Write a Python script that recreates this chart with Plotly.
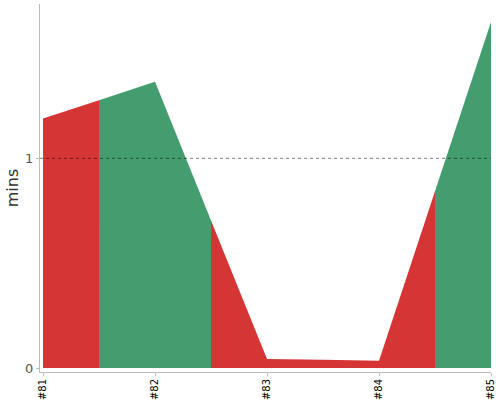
import numpy as np
import plotly.graph_objects as go

# Build durations (minutes) and results
builds = ["#81", "#82", "#83", "#84", "#85"]
durations = [1.19, 1.365, 0.043, 0.035, 1.65]
results = ["FAILURE", "SUCCESS", "FAILURE", "FAILURE", "SUCCESS"]

colors = {"SUCCESS": "#449D6E", "FAILURE": "#D63536"}

xs = np.arange(len(builds))
vals = np.array(durations)

fig = go.Figure()

# each build owns the band from the midpoint before it to the midpoint after it
for i in range(len(builds)):
    seg_x = [xs[i]]
    seg_y = [vals[i]]
    if i > 0:
        seg_x = [(xs[i - 1] + xs[i]) / 2] + seg_x
        seg_y = [(vals[i - 1] + vals[i]) / 2] + seg_y
    if i < len(builds) - 1:
        seg_x = seg_x + [(xs[i] + xs[i + 1]) / 2]
        seg_y = seg_y + [(vals[i] + vals[i + 1]) / 2]
    c = colors[results[i]]
    fig.add_trace(go.Scatter(
        x=seg_x, y=seg_y,
        mode="lines", fill="tozeroy",
        line=dict(width=0, color=c),
        fillcolor=c,
        hoverinfo="skip",
        showlegend=False,
    ))

# dotted reference line at 1 min
fig.add_hline(y=1, line=dict(color="rgba(0,0,0,0.5)", width=1, dash="dot"), layer="above")

fig.update_layout(
    width=500, height=400,
    margin=dict(l=40, r=9, t=4, b=28, autoexpand=False),
    plot_bgcolor="white",
    paper_bgcolor="white",
    font=dict(family="DejaVu Sans"),
    xaxis=dict(
        tickvals=xs, ticktext=builds,
        range=[-0.027, 4.0],
        tickangle=-90,
        automargin=False,
        showgrid=False, zeroline=False,
        showline=True, linecolor="#bbbbbb", linewidth=1,
        ticks="outside", ticklen=3, tickcolor="#bbbbbb",
        tickfont=dict(size=10, color="#000000"),
        ticklabelstandoff=-1,
    ),
    yaxis=dict(
        tickvals=[0, 1],
        range=[-0.019, 1.736],
        automargin=False,
        showgrid=False, zeroline=False,
        showline=True, linecolor="#bbbbbb", linewidth=1,
        ticks="outside", ticklen=3, tickcolor="#bbbbbb",
        tickfont=dict(size=13, color="#555555"),
        title=dict(text="mins", font=dict(size=16, color="#333333"), standoff=2),
    ),
)

# drop the page's default body margin so the figure sits at the window corner
fig.write_html("out.html", config={"displayModeBar": False},
               post_script="document.body.style.margin='0px';")
